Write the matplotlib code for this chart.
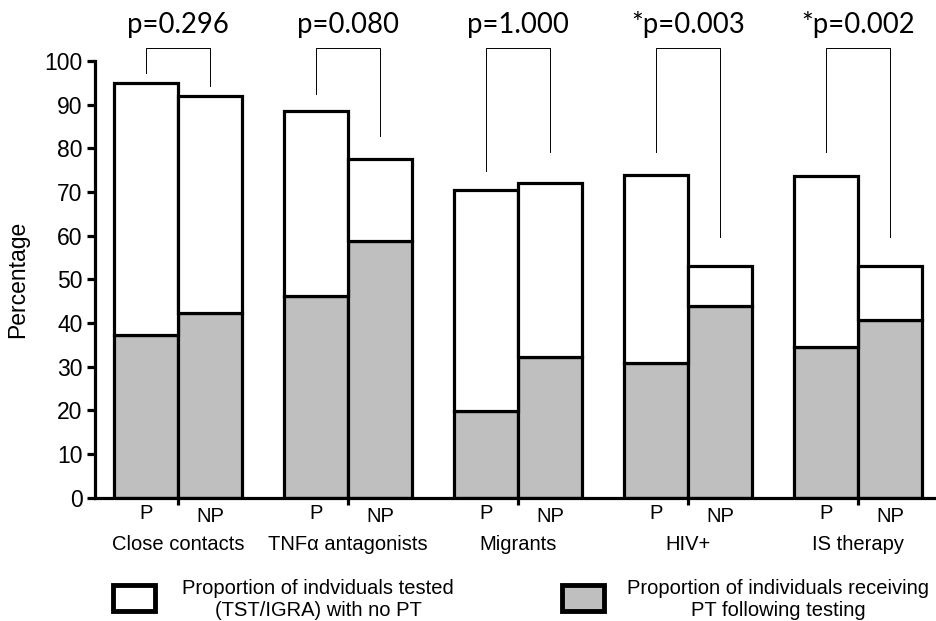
import numpy as np
import matplotlib
matplotlib.use("Agg")
import matplotlib.pyplot as plt
from matplotlib.patches import Rectangle

groups = ["Close contacts", "TNFα antagonists", "Migrants", "HIV+", "IS therapy"]
total_p = [95.0, 88.5, 70.5, 73.8, 73.6]
total_np = [92.0, 77.5, 72.1, 53.0, 53.0]
pt_p = [37.2, 46.1, 19.8, 30.8, 34.5]
pt_np = [42.2, 58.8, 32.2, 43.9, 40.7]
p_labels = ["p=0.296", "p=0.080", "p=1.000", "*p=0.003", "*p=0.002"]
leg_p = [97.2, 92.4, 74.8, 79.1, 79.1]
leg_np = [94.3, 82.8, 79.1, 59.6, 59.6]
bracket_top = 103.0

plt.rcParams["font.family"] = ["Liberation Sans", "DejaVu Sans"]
GRAY = "#bfbfbf"
LW = 2.3

fig = plt.figure(figsize=(9.37, 6.21), dpi=100)
ax = fig.add_axes([0.1014, 0.1985, 0.8986, 0.7032])

x = np.arange(len(groups))
w = 0.376
xp = x - w / 2
xn = x + w / 2

# gray part (PT), white remainder on top
ax.bar(xp, pt_p, w, color=GRAY, edgecolor="black", linewidth=LW, zorder=2)
ax.bar(xn, pt_np, w, color=GRAY, edgecolor="black", linewidth=LW, zorder=2)
ax.bar(xp, np.array(total_p) - np.array(pt_p), w, bottom=pt_p, color="white",
       edgecolor="black", linewidth=LW, zorder=2)
ax.bar(xn, np.array(total_np) - np.array(pt_np), w, bottom=pt_np, color="white",
       edgecolor="black", linewidth=LW, zorder=2)

# brackets and p-values
for i in range(len(groups)):
    ax.plot([xp[i], xp[i], xn[i], xn[i]], [leg_p[i], bracket_top, bracket_top, leg_np[i]],
            color="black", lw=0.7, clip_on=False, zorder=3)
    ax.text(x[i], 106.4, p_labels[i], ha="center", va="baseline", fontsize=19.8,
            family=["Lato", "DejaVu Sans"], clip_on=False)

ax.set_ylim(0, 100)
ax.set_xlim(-0.488, 4.465)
ax.set_yticks(np.arange(0, 101, 10))
ax.set_xticks(x)
ax.set_xticklabels([])
ax.tick_params(axis="y", labelsize=16.5, length=6, width=LW, pad=3)
ax.tick_params(axis="x", length=5, width=LW)
for s in ["top", "right"]:
    ax.spines[s].set_visible(False)
for s in ["left", "bottom"]:
    ax.spines[s].set_linewidth(LW)
ax.set_ylabel("Percentage", fontsize=16.5)
ax.yaxis.set_label_coords(-0.078, 0.5)

# P / NP and group labels under axis
trans = ax.get_xaxis_transform()
for i in range(len(groups)):
    ax.text(xp[i], -0.036, "P", transform=trans, ha="center", va="center", fontsize=14.5)
    ax.text(xn[i], -0.043, "NP", transform=trans, ha="center", va="center", fontsize=14.5)
    ax.text(x[i], -0.106, groups[i], transform=trans, ha="center", va="center", fontsize=14.5)

# legend drawn by hand
H = 621.0
Wd = 937.0
fig.patches.append(Rectangle((113 / Wd, 1 - 611 / H), 42 / Wd, 26 / H, transform=fig.transFigure,
                             facecolor="white", edgecolor="black", linewidth=3.5))
fig.patches.append(Rectangle((562 / Wd, 1 - 611 / H), 42 / Wd, 26 / H, transform=fig.transFigure,
                             facecolor=GRAY, edgecolor="black", linewidth=3.5))
fig.text(318 / Wd, 1 - 599 / H, "Proportion of indviduals tested\n(TST/IGRA) with no PT",
         ha="center", va="center", multialignment="center", fontsize=14.5, linespacing=1.2)
fig.text(778 / Wd, 1 - 599 / H, "Proportion of individuals receiving\nPT following testing",
         ha="center", va="center", multialignment="center", fontsize=14.5, linespacing=1.2)

fig.savefig("out.png", dpi=100)
